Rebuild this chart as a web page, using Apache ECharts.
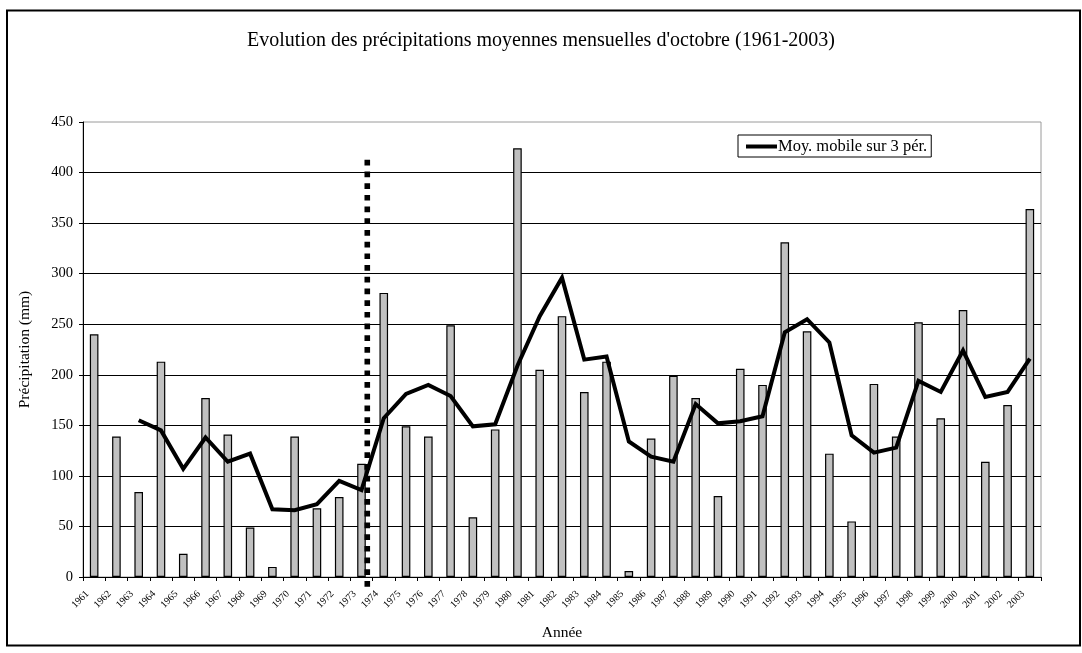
<!DOCTYPE html>
<html>
<head>
<meta charset="utf-8">
<script src="https://cdn.jsdelivr.net/npm/echarts@6/dist/echarts.min.js"></script>
<style>
html,body{margin:0;padding:0;background:#fff;}
#chart{width:1082px;height:653px;}
</style>
</head>
<body>
<div id="chart"></div>
<script>
var years = ['1961','1962','1963','1964','1965','1966','1967','1968','1969','1970','1971','1972','1973','1974','1975','1976','1977','1978','1979','1980','1981','1982','1983','1984','1985','1986','1987','1988','1989','1990','1991','1992','1993','1994','1995','1996','1997','1998','1999','2000','2001','2002','2003'];
var precipitation = [240,139,84,213,23,177,141,49,10,139,68,79,112,281,149,139,249,59,146,424,205,258,183,213,6,137,199,177,80,206,190,331,243,122,55,191,139,252,157,264,114,170,364];
var movingAvg = ['-','-',155,145,107,138,114,122,67,66,72,95,86,157,181,190,179,149,151,209,258,296,215,218,134,119,114,171,152,154,159,242,255,232,140,123,128,194,183,224,178,183,216];
var breakLine = [[12.76,-9.6],[12.76,415.5]];
var yTicks = {min:0, max:450, interval:50};

var serif = '"Liberation Serif", "DejaVu Serif", serif';
var chart = echarts.init(document.getElementById('chart'));
chart.setOption({
  backgroundColor:'#fff',
  animation:false,
  title:{
    text:"Evolution des précipitations moyennes mensuelles d'octobre (1961-2003)",
    left:'center', top:26,
    textStyle:{fontFamily:serif, fontSize:20, fontWeight:'normal', color:'#000'}
  },
  legend:{
    data:[{name:'Moy. mobile sur 3 pér.', icon:'rect'}],
    left:738, top:135,
    orient:'horizontal',
    itemWidth:31, itemHeight:4,
    itemGap:0,
    padding:[3,4,2,8],
    borderColor:'#000', borderWidth:1, backgroundColor:'#fff',
    textStyle:{fontFamily:serif, fontSize:16.5, color:'#000', padding:[0,0,0,-4]}
  },
  grid:{left:83, right:41, top:122, bottom:76, show:true, borderColor:'#9a9a9a', borderWidth:1, backgroundColor:'transparent'},
  xAxis:[{
    type:'category', data:years, boundaryGap:true,
    name:'Année', nameLocation:'middle', nameGap:48,
    nameTextStyle:{fontFamily:serif, fontSize:15.5, color:'#000'},
    axisLine:{show:true, lineStyle:{color:'#000', width:1}},
    axisTick:{show:true, inside:false, length:4, interval:0, alignWithLabel:false, lineStyle:{color:'#000'}},
    axisLabel:{interval:0, rotate:45, margin:15, fontFamily:serif, fontSize:10, color:'#000', padding:[0,5,0,0], verticalAlign:'bottom', lineHeight:9},
    splitLine:{show:false}
  },{
    type:'value', min:0, max:43, show:false
  }],
  yAxis:{
    type:'value', min:yTicks.min, max:yTicks.max, interval:yTicks.interval,
    name:'Précipitation (mm)', nameLocation:'middle', nameGap:50, nameRotate:90,
    nameTextStyle:{fontFamily:serif, fontSize:15.5, color:'#000'},
    axisLine:{show:true, lineStyle:{color:'#000', width:1}},
    axisTick:{show:true, inside:false, length:4, lineStyle:{color:'#000'}},
    axisLabel:{margin:10, fontFamily:serif, fontSize:14.5, color:'#000'},
    splitLine:{show:true, showMaxLine:false, lineStyle:{color:'#000', width:1}}
  },
  series:[{
    name:'Précipitation', type:'bar', data:precipitation, barWidth:8.6,
    itemStyle:{color:'#c0c0c0', borderColor:'#000', borderWidth:1.2},
    z:2
  },{
    name:'Moy. mobile sur 3 pér.', type:'line', data:movingAvg,
    showSymbol:false, symbol:'none', connectNulls:false,
    lineStyle:{color:'#000', width:4, join:'miter'},
    itemStyle:{color:'#000'},
    z:4
  },{
    name:'rupture', type:'line', xAxisIndex:1, data:breakLine,
    showSymbol:false, symbol:'none', clip:false, silent:true,
    lineStyle:{color:'#000', width:5.6, type:[5.7,6], cap:'butt'},
    z:5
  }],
  graphic:[{
    type:'rect', silent:true,
    shape:{x:7, y:10.5, width:1073, height:635},
    style:{fill:'none', stroke:'#000', lineWidth:2},
    z:100
  }]
});
</script>
</body>
</html>
